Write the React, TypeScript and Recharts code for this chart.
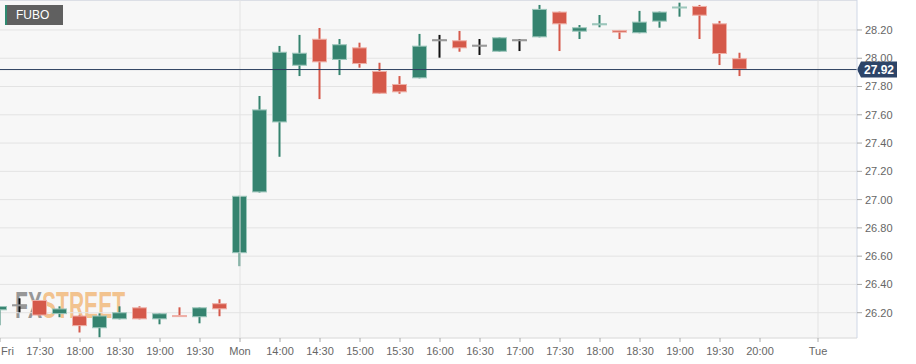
import { ComposedChart, Bar, XAxis, YAxis, CartesianGrid, ReferenceLine } from 'recharts';

// 15-minute candles, Fri 17:00 .. Mon 19:45 (slot index = position on axis)
const opens = [
  26.217, 26.252, 26.29, 26.19, 26.18, 26.09, 26.153, 26.238, 26.153, 26.176, 26.168, 26.267,
  26.621, 27.051, 27.546, 27.947, 28.138, 27.988, 28.077, 27.91, 27.818, 27.858, 28.127, 28.127,
  28.089, 28.046, 28.127, 28.148, 28.33, 28.188, 28.232, 28.2, 28.177, 28.259, 28.355, 28.37,
  28.247, 28.0,
];
const highs = [
  26.247, 26.302, 26.29, 26.245, 26.185, 26.195, 26.245, 26.245, 26.196, 26.238, 26.238, 26.295,
  27.027, 27.733, 28.087, 28.165, 28.214, 28.136, 28.11, 27.968, 27.874, 28.172, 28.165, 28.193,
  28.136, 28.148, 28.136, 28.377, 28.33, 28.235, 28.306, 28.2, 28.335, 28.33, 28.393, 28.377,
  28.264, 28.039,
];
const lows = [
  26.111, 26.203, 26.18, 26.168, 26.06, 26.025, 26.153, 26.153, 26.118, 26.17, 26.125, 26.175,
  26.529, 27.05, 27.303, 27.874, 27.711, 27.881, 27.933, 27.749, 27.749, 27.858, 28.004, 28.046,
  28.023, 28.046, 28.051, 28.148, 28.051, 28.136, 28.219, 28.136, 28.177, 28.216, 28.294, 28.136,
  27.952, 27.874,
];
const closes = [
  26.247, 26.252, 26.18, 26.23, 26.105, 26.18, 26.203, 26.153, 26.196, 26.17, 26.238, 26.224,
  27.027, 27.638, 28.046, 28.039, 27.971, 28.099, 27.959, 27.749, 27.759, 28.089, 28.127, 28.07,
  28.089, 28.148, 28.127, 28.349, 28.24, 28.219, 28.24, 28.181, 28.259, 28.33, 28.359, 28.301,
  28.03, 27.92,
];

const xTickValues = [0, 2, 4, 6, 8, 10, 12, 14, 16, 18, 20, 22, 24, 26, 28, 30, 32, 34, 36, 38, 40.9];
const xTickLabels = [
  'Fri', '17:30', '18:00', '18:30', '19:00', '19:30', 'Mon', '14:00', '14:30', '15:00', '15:30',
  '16:00', '16:30', '17:00', '17:30', '18:00', '18:30', '19:00', '19:30', '20:00', 'Tue',
];
const yTickValues = [26.2, 26.4, 26.6, 26.8, 27.0, 27.2, 27.4, 27.6, 27.8, 28.0, 28.2];
const lastPrice = 27.92;
const symbol = 'FUBO';

const data = opens.map((o, i) => ({
  slot: i,
  open: o,
  high: highs[i],
  low: lows[i],
  close: closes[i],
  range: [lows[i], highs[i]],
}));

const UP = '#35836f';
const DOWN = '#d5594a';
const FONT = '"Liberation Sans", Arial, sans-serif';

function Candle(props: any) {
  const { x, y, width, height, payload } = props;
  if (x == null || y == null || !payload) return null;
  const top = Math.min(y, y + height);
  const h = Math.abs(height);
  const { open, close, high, low } = payload;
  const span = high - low || 1;
  const py = (v: number) => top + ((high - v) / span) * h;
  const color = close > open ? UP : close < open ? DOWN : '#111';
  const edge = close > open ? '#9cc6bb' : close < open ? '#eeb0a7' : '#999';
  const cx = x + width / 2;
  const bTop = py(Math.max(open, close));
  const bBot = py(Math.min(open, close));
  const bh = Math.max(bBot - bTop, 2);
  return (
    <g>
      <rect x={cx - 1} y={top} width={2} height={h} fill={color} />
      <rect
        x={x + 0.5}
        y={bTop - (bh > bBot - bTop ? 1 : 0) + 0.5}
        width={width - 1}
        height={bh - 1 > 0 ? bh - 1 : 1}
        fill={color}
        stroke={edge}
        strokeWidth={1}
      />
    </g>
  );
}

function XTick(props: any) {
  const { x, y, payload } = props;
  const idx = xTickValues.indexOf(payload.value);
  const first = idx === 0;
  return (
    <text
      x={first ? x + 1 : x}
      y={y + 11}
      textAnchor={first ? 'start' : 'middle'}
      fill="#666"
      fontSize={11}
      fontFamily={FONT}
    >
      {xTickLabels[idx]}
    </text>
  );
}

function PriceTag(props: any) {
  const { viewBox } = props;
  if (!viewBox) return null;
  const x0 = viewBox.x + viewBox.width;
  const cy = viewBox.y;
  return (
    <g>
      <path
        d={`M${x0} ${cy} L${x0 + 4} ${cy - 8} L${x0 + 40} ${cy - 8} L${x0 + 40} ${cy + 8} L${x0 + 4} ${cy + 8} Z`}
        fill="#2c4468"
      />
      <text
        x={x0 + 22}
        y={cy + 4}
        textAnchor="middle"
        fill="#fff"
        fontSize={12}
        fontWeight="bold"
        fontFamily={FONT}
      >
        {lastPrice.toFixed(2)}
      </text>
    </g>
  );
}

export default function App() {
  return (
    <div
      style={{
        position: 'absolute',
        left: 0,
        top: 0,
        width: 916,
        height: 364,
        background: '#fff',
        fontFamily: FONT,
        overflow: 'hidden',
      }}
    >
      <div style={{ position: 'absolute', left: 0, top: 0, width: 857, height: 338, background: '#f7f7f7' }} />
      <div style={{ position: 'absolute', left: 0, top: 0, width: 857, height: 1, background: '#d4dbe8' }} />
      {/* watermark sits behind the candles */}
      <svg style={{ position: 'absolute', left: 0, top: 0 }} width={857} height={338}>
        <g transform="translate(15 318) scale(0.57 1)">
          <text x={0} y={0} fontSize={37} fontWeight="bold" fontFamily={FONT}>
            <tspan fill="#777" fillOpacity={0.75}>FX</tspan>
            <tspan fill="#f0a048" fillOpacity={0.6}>STREET</tspan>
          </text>
        </g>
      </svg>
      <div style={{ position: 'relative' }}>
        <ComposedChart width={916} height={364} data={data} margin={{ top: 0, right: 0, bottom: 0, left: 0 }}>
          <CartesianGrid vertical={false} stroke="#e3e3e3" />
          <XAxis
            type="number"
            dataKey="slot"
            domain={[0, 42.85]}
            allowDataOverflow
            ticks={xTickValues}
            interval={0}
            height={26}
            tick={<XTick />}
            tickSize={4}
            tickLine={{ stroke: '#aaa' }}
            axisLine={{ stroke: '#e3e3e3' }}
          />
          <YAxis
            orientation="right"
            type="number"
            domain={[26.021, 28.412]}
            allowDataOverflow
            ticks={yTickValues}
            interval={0}
            width={59}
            tickFormatter={(v: number) => v.toFixed(2)}
            tick={{ fill: '#666', fontSize: 11, fontFamily: FONT }}
            tickSize={5}
            tickMargin={3}
            tickLine={{ stroke: '#aaa' }}
            axisLine={{ stroke: '#cfd7e6' }}
          />
          <ReferenceLine x={xTickValues[6]} stroke="#e3e3e3" />
          <ReferenceLine x={xTickValues[20]} stroke="#e3e3e3" />
          <Bar dataKey="range" barSize={15} shape={<Candle />} isAnimationActive={false} />
          <ReferenceLine y={lastPrice} stroke="#2c3f5f" strokeWidth={1} label={<PriceTag />} />
        </ComposedChart>
      </div>
      <div
        style={{
          position: 'absolute',
          left: 5,
          top: 5,
          width: 58,
          height: 20,
          background: '#606060',
          borderLeft: '2px solid #2e8a70',
          color: '#fff',
          fontSize: 12,
          lineHeight: '20px',
          paddingLeft: 9,
          boxSizing: 'border-box',
        }}
      >
        {symbol}
      </div>
    </div>
  );
}
